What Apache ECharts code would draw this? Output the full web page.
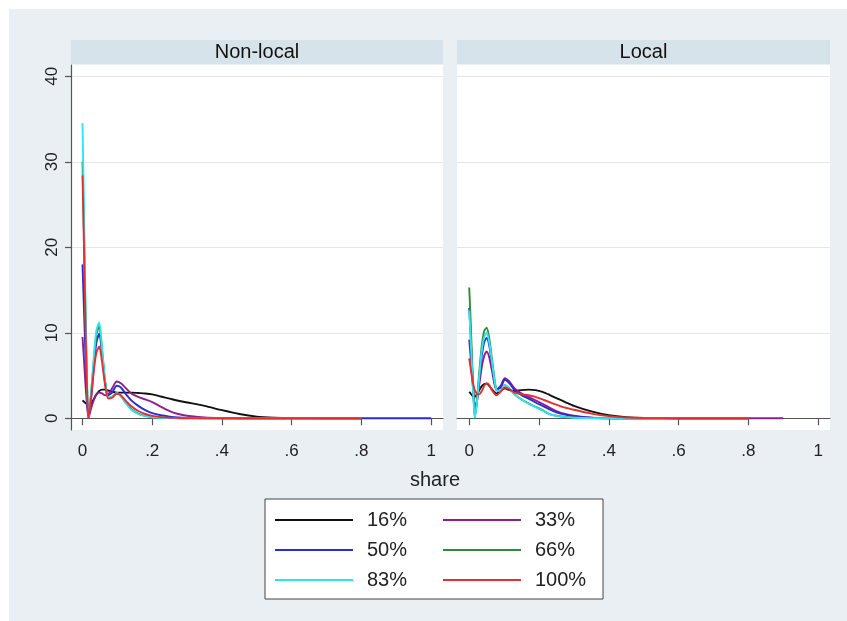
<!DOCTYPE html>
<html>
<head>
<meta charset="utf-8">
<script src="https://cdn.jsdelivr.net/npm/echarts@6.0.0/dist/echarts.min.js"></script>
<style>
  html, body { margin: 0; padding: 0; background: #fff; }
  #chart { width: 847px; height: 621px; background: #e9eff2; box-shadow: inset 9px 9px 0 0 #fff; }
</style>
</head>
<body>
<div id="chart"></div>
<script>
// ---- data ----
const panelTitles = ['Non-local', 'Local'];
const seriesNames = ['16%', '33%', '50%', '66%', '83%', '100%'];
const seriesColors = ['#111111', '#8e1f8e', '#2b2bd6', '#338a3a', '#2ee4f0', '#e03030'];
const xTickValues = [0, 0.2, 0.4, 0.6, 0.8, 1];
const yTickValues = [0, 10, 20, 30, 40];

// Non-local panel
const xNonLocal = [0, 0.004, 0.008, 0.012, 0.017, 0.025, 0.033, 0.04, 0.048, 0.056, 0.065, 0.074, 0.085, 0.098, 0.11, 0.125, 0.14, 0.16, 0.18, 0.2, 0.225, 0.25, 0.275, 0.3, 0.35, 0.4, 0.45, 0.5, 0.55, 0.6, 0.7, 0.8, 0.9, 1.0];
const nl16  = [2.1, 1.95, 1.8, 1.7, 1.6, 1.75, 2.3, 2.8, 3.2, 3.35, 3.35, 3.25, 3.1, 3.0, 3.0, 3.0, 3.0, 2.95, 2.9, 2.8, 2.55, 2.3, 2.05, 1.85, 1.45, 0.95, 0.5, 0.2, 0.08, 0.03, 0.01, 0];
const nl33  = [9.5, 7, 4.3, 2, 0.05, 1.2, 2.2, 2.8, 3.0, 2.9, 2.7, 2.8, 3.5, 4.3, 4.1, 3.5, 2.9, 2.5, 2.2, 1.9, 1.35, 0.85, 0.5, 0.3, 0.1, 0.03, 0.01, 0, 0, 0, 0, 0];
const nl50  = [18, 13, 8, 3.5, 0.05, 2.4, 6.2, 8.9, 9.9, 7.6, 4.2, 2.7, 3.0, 3.8, 3.6, 2.8, 2.1, 1.45, 0.95, 0.6, 0.35, 0.2, 0.1, 0.05, 0.02, 0.01, 0, 0, 0, 0, 0, 0, 0, 0];
const nl66  = [30, 22, 13, 5.5, 0.05, 3.0, 7.0, 9.8, 10.8, 8.0, 4.2, 2.4, 2.5, 2.9, 2.6, 1.8, 1.1, 0.55, 0.28, 0.13, 0.06, 0.03, 0.01, 0.005, 0, 0, 0, 0, 0, 0, 0, 0];
const nl83  = [34.5, 25, 15, 6.5, 0.05, 3.2, 7.5, 10.3, 11.2, 8.3, 4.3, 2.4, 2.5, 3.0, 2.6, 1.7, 1.0, 0.5, 0.25, 0.12, 0.05, 0.02, 0.01, 0.005, 0, 0, 0, 0, 0, 0, 0, 0];
const nl100 = [28.4, 20.5, 12, 5, 0.05, 2.6, 5.8, 7.7, 8.4, 6.6, 3.8, 2.3, 2.4, 2.9, 2.7, 2.0, 1.4, 0.85, 0.5, 0.28, 0.14, 0.07, 0.04, 0.02, 0.01, 0, 0, 0, 0, 0, 0, 0];

// Local panel
const xLocal = [0, 0.004, 0.008, 0.012, 0.016, 0.022, 0.029, 0.036, 0.043, 0.05, 0.057, 0.065, 0.078, 0.09, 0.102, 0.115, 0.13, 0.15, 0.17, 0.19, 0.21, 0.23, 0.25, 0.275, 0.3, 0.35, 0.4, 0.45, 0.5, 0.6, 0.7, 0.8, 0.9];
const lo16  = [3.1, 2.9, 2.7, 2.55, 2.5, 2.8, 3.3, 3.75, 4.0, 4.05, 3.8, 3.4, 2.9, 3.2, 3.5, 3.3, 3.2, 3.3, 3.35, 3.3, 3.1, 2.75, 2.35, 1.9, 1.45, 0.8, 0.35, 0.12, 0.04, 0.01, 0, 0];
const lo33  = [9.2, 7.2, 5.0, 3.0, 1.4, 2.0, 4.0, 6.0, 7.3, 7.8, 7.2, 5.6, 3.3, 3.8, 4.7, 4.3, 3.5, 2.9, 2.5, 2.1, 1.7, 1.25, 0.85, 0.5, 0.3, 0.08, 0.02, 0, 0, 0, 0, 0, 0];
const lo50  = [12.9, 9.8, 6.2, 3.0, 0.5, 1.9, 4.8, 7.3, 8.9, 9.4, 8.6, 6.5, 3.4, 3.6, 4.5, 4.1, 3.3, 2.7, 2.3, 1.85, 1.45, 1.05, 0.7, 0.42, 0.23, 0.06, 0.01, 0, 0, 0, 0, 0];
const lo66  = [15.3, 11.5, 7.0, 3.0, 0.05, 2.0, 5.5, 8.5, 10.2, 10.6, 9.5, 7.0, 3.3, 3.2, 3.9, 3.5, 2.8, 2.2, 1.75, 1.35, 0.95, 0.5, 0.3, 0.15, 0.08, 0.02, 0.01, 0, 0, 0, 0, 0];
const lo83  = [12.6, 9.5, 5.8, 2.5, 0.05, 1.8, 5.0, 7.9, 9.5, 10.0, 9.0, 6.7, 3.3, 3.2, 3.9, 3.5, 2.8, 2.2, 1.7, 1.3, 0.9, 0.5, 0.28, 0.14, 0.07, 0.02, 0, 0, 0, 0, 0, 0];
const lo100 = [7.0, 5.9, 4.8, 3.9, 3.3, 2.9, 2.8, 3.2, 3.8, 4.1, 3.9, 3.3, 2.7, 3.1, 3.6, 3.4, 3.0, 2.8, 2.7, 2.5, 2.2, 1.9, 1.6, 1.25, 1.0, 0.55, 0.25, 0.1, 0.04, 0.01, 0, 0];

// ---- build ----
const FONT = "'Liberation Sans', Arial, sans-serif";
const panelData = [
  { x: xNonLocal, ys: [nl16, nl33, nl50, nl66, nl83, nl100] },
  { x: xLocal, ys: [lo16, lo33, lo50, lo66, lo83, lo100] }
];
function zip(xs, ys) { return ys.map((v, i) => [xs[i], v]); }
function fmtX(v) { if (v === 0) return '0'; if (v === 1) return '1'; return String(+v.toFixed(1)).replace(/^0/, ''); }

const grids = [
  { left: 71, top: 65, width: 372, height: 365 },
  { left: 457, top: 65, width: 373, height: 365 }
].map(g => Object.assign({ show: true, backgroundColor: '#ffffff', borderWidth: 0, containLabel: false }, g));

const xAxes = [[-0.033, 1.034], [-0.035, 1.034]].map((r, i) => ({
  type: 'value', gridIndex: i, min: r[0], max: r[1],
  axisLine: { show: true, lineStyle: { color: '#555', width: 1.2 } },
  axisTick: { show: true, inside: false, length: 7, customValues: xTickValues, lineStyle: { color: '#555', width: 1.2 } },
  axisLabel: { customValues: xTickValues, formatter: fmtX, fontSize: 17, color: '#222', fontFamily: FONT, margin: 13 },
  splitLine: { show: false }
}));

const yAxes = [0, 1].map(i => ({
  type: 'value', gridIndex: i, min: -1.37, max: 41.32,
  axisLine: { show: i === 0, onZero: false, lineStyle: { color: '#555', width: 1.2 } },
  axisTick: { show: i === 0, inside: false, length: 6, customValues: yTickValues, lineStyle: { color: '#555', width: 1.2 } },
  axisLabel: { show: i === 0, customValues: yTickValues, rotate: 90, fontSize: 17, color: '#222', fontFamily: FONT, margin: 10 },
  splitLine: { show: true, lineStyle: { color: '#e6e6e6', width: 1 } }
}));

const series = [];
panelData.forEach((p, pi) => {
  p.ys.forEach((ys, si) => {
    series.push({
      name: seriesNames[si], type: 'line', xAxisIndex: pi, yAxisIndex: pi,
      data: zip(p.x, ys), showSymbol: false, smooth: 0.25,
      lineStyle: { color: seriesColors[si], width: 1.9 }, itemStyle: { color: seriesColors[si] },
      z: 2 + si, animation: false
    });
  });
});

const titles = panelTitles.map((t, i) => ({
  text: '{t|' + t + '}', left: grids[i].left, top: 40, padding: 0,
  textStyle: { rich: { t: { width: grids[i].width, height: 24, align: 'center', verticalAlign: 'middle', backgroundColor: '#d7e3ea', fontSize: 20, fontWeight: 'normal', color: '#111', fontFamily: FONT } } }
}));
titles.push({ text: 'share', left: 410, top: 470, padding: 0, textStyle: { fontSize: 20, fontWeight: 'normal', color: '#222', fontFamily: FONT } });

const legendCommon = {
  orient: 'vertical', icon: 'rect', itemWidth: 78, itemHeight: 2, itemGap: 8,
  textStyle: { fontSize: 20, lineHeight: 22, color: '#222', fontFamily: FONT, padding: [0, 0, 0, 9] },
  selectedMode: false
};
const legends = [
  Object.assign({}, legendCommon, { data: [seriesNames[0], seriesNames[2], seriesNames[4]], left: 265, top: 499, padding: [10, 196, 8, 10], backgroundColor: '#fff', borderColor: '#444', borderWidth: 1 }),
  Object.assign({}, legendCommon, { data: [seriesNames[1], seriesNames[3], seriesNames[5]], left: 443, top: 509, padding: 0, z: 6 })
];

const chart = echarts.init(document.getElementById('chart'), null, { renderer: 'canvas' });
chart.setOption({
  animation: false,
  textStyle: { fontFamily: FONT },
  grid: grids, xAxis: xAxes, yAxis: yAxes, title: titles, legend: legends, series: series
});
</script>
</body>
</html>
